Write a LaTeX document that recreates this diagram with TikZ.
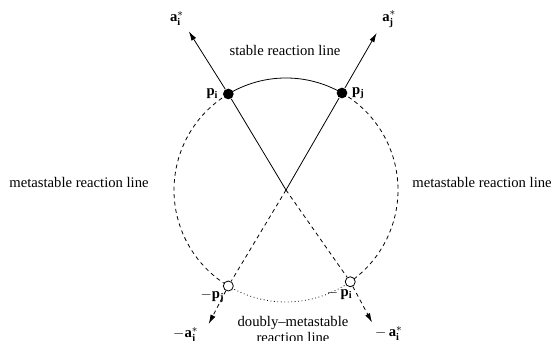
\documentclass[tikz,border=0pt]{standalone}
\usepackage{fontspec}
\setmainfont{Liberation Serif}
\usetikzlibrary{arrows.meta,positioning}

\tikzset{
  fulldot/.style={circle, fill=black, inner sep=0pt, minimum size=8pt},
  opendot/.style={circle, draw=black, fill=white, inner sep=0pt, minimum size=7.5pt},
  vecarrow/.style={-{Latex[length=7pt,width=4pt]}},
  metaline/.style={dashed, dash pattern=on 3pt off 2.6pt},
}

\begin{document}
\begin{tikzpicture}[x=0.75pt, y=0.75pt, line width=0.6pt,
  every node/.style={font=\fontsize{11}{12.5}\selectfont, inner sep=1pt}]
  \useasboundingbox (0,0) rectangle (553,341);
  \coordinate (c) at (286,151);

  % reaction lines on the circle
  \draw ([shift={(121:84pt)}]c) arc[start angle=121, end angle=60, radius=84pt];
  \draw[metaline] ([shift={(60:84pt)}]c) arc[start angle=60, end angle=-55, radius=84pt];
  \draw[metaline] ([shift={(121:84pt)}]c) arc[start angle=121, end angle=239, radius=84pt];
  \draw[dotted] ([shift={(239:84pt)}]c) arc[start angle=239, end angle=305, radius=84pt];

  % points
  \node[fulldot] (pi) at ([shift={(121:84pt)}]c) {};
  \node[fulldot] (pj) at ([shift={(60:84pt)}]c) {};
  \node[opendot] (mpj) at ([shift={(239:84pt)}]c) {};
  \node[opendot] (mpi) at ([shift={(305:84pt)}]c) {};

  % arrow tips
  \coordinate (ai) at ([shift={(121.5:139.5pt)}]c);
  \coordinate (aj) at ([shift={(60:136pt)}]c);
  \coordinate (maj) at ([shift={(240:116pt)}]c);
  \coordinate (mai) at ([shift={(303:118.5pt)}]c);

  \draw (pi) -- (c);
  \draw (pj) -- (c);
  \draw[metaline] (c) -- (mpi);
  \draw[metaline] (c) -- (mpj);
  \draw[vecarrow] (pi) -- (ai);
  \draw[vecarrow] (pj) -- (aj);
  \draw[metaline, vecarrow] (mpj) -- (maj);
  \draw[metaline, vecarrow] (mpi) -- (mai);

  % labels
  \node[left=2pt of pi] (pilbl) {$\mathbf{p}_{\mathbf{i}}$};
  \node[right=2pt of pj] (pjlbl) {$\mathbf{p}_{\mathbf{j}}$};
  \node[below left=-1.5pt and -1pt of mpj] (mpjlbl) {${-}\mathbf{p}_{\mathbf{j}}$};
  \node[below=-1pt of mpi, xshift=-8pt] (mpilbl) {$-\,\mathbf{p}_{\mathbf{i}}$};
  \node[above left=3pt and 2.5pt of ai] (ailbl) {$\mathbf{a}^*_{\mathbf{i}}$};
  \node[above right=3pt and 3pt of aj] (ajlbl) {$\mathbf{a}^*_{\mathbf{j}}$};
  \node[below left=1.5pt and 6.5pt of maj] (majlbl) {${-}\mathbf{a}^*_{\mathbf{j}}$};
  \node[below right=1.5pt and 1pt of mai] (mailbl) {$-\,\mathbf{a}^*_{\mathbf{i}}$};

  \node (stable) at (285,291) {stable reaction line};
  \node (metaleft) at (79,159) {metastable reaction line};
  \node (metaright) at (482,159) {metastable reaction line};
  \node[align=center] (doubly) at (293,11.5) {doubly--metastable\\reaction line};
\end{tikzpicture}
\end{document}
